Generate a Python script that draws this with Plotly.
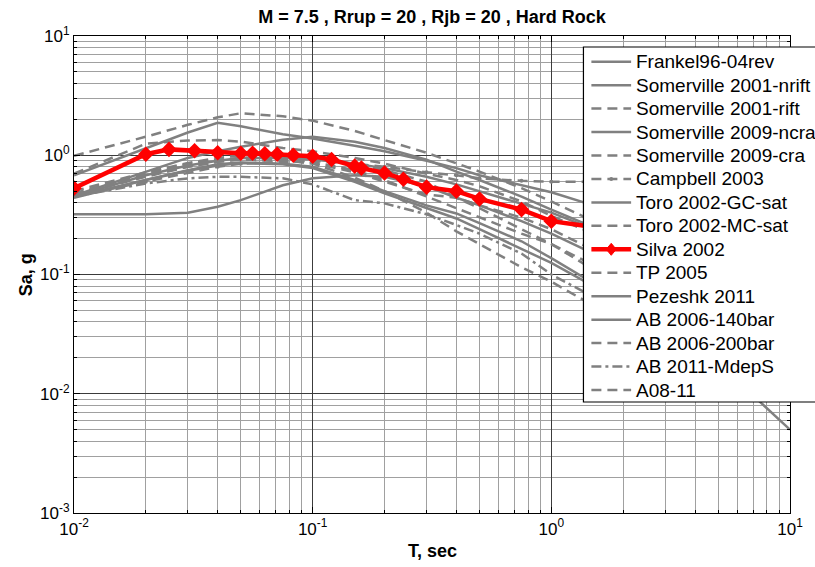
import plotly.graph_objects as go

# ---------------- data ----------------
T_STD = [0.01, 0.02, 0.03, 0.04, 0.05, 0.075, 0.1, 0.15, 0.2, 0.3, 0.4, 0.5, 0.75, 1.0, 1.5, 2.0, 3.0, 4.0, 5.0]
T_PEZ = T_STD + [7.5, 10.0]

frankel96 = [0.45, 0.68, 0.82, 0.90, 0.95, 0.95, 0.92, 0.85, 0.78, 0.66, 0.57, 0.50, 0.39, 0.33, 0.24, 0.18, 0.12, 0.085, 0.065]
somer01_nrift = [0.68, 1.15, 1.55, 1.87, 1.75, 1.50, 1.38, 1.20, 1.08, 0.90, 0.78, 0.68, 0.56, 0.49, 0.38, 0.30, 0.20, 0.15, 0.11]
somer01_rift = [0.99, 1.43, 1.80, 2.08, 2.25, 2.12, 1.95, 1.60, 1.34, 1.05, 0.855, 0.73, 0.53, 0.41, 0.28, 0.21, 0.13, 0.09, 0.065]
somer09_ncra = [0.46, 0.72, 0.95, 1.08, 1.18, 1.35, 1.43, 1.30, 1.15, 0.92, 0.73, 0.62, 0.45, 0.35, 0.25, 0.19, 0.12, 0.085, 0.06]
somer09_cra = [0.70, 1.25, 1.33, 1.34, 1.30, 1.15, 1.08, 0.95, 0.85, 0.70, 0.62, 0.55, 0.41, 0.31, 0.22, 0.16, 0.10, 0.07, 0.05]
campbell03 = [0.45, 0.60, 0.72, 0.80, 0.85, 0.88, 0.90, 0.85, 0.80, 0.72, 0.68, 0.64, 0.61, 0.60, 0.60, 0.50, 0.35, 0.25, 0.20]
toro_gc = [0.45, 0.62, 0.75, 0.84, 0.87, 0.85, 0.80, 0.62, 0.50, 0.38, 0.325, 0.27, 0.19, 0.137, 0.085, 0.06, 0.035, 0.025, 0.02]
toro_mc = [0.47, 0.68, 0.80, 0.88, 0.92, 0.90, 0.86, 0.72, 0.60, 0.47, 0.44, 0.36, 0.24, 0.18, 0.11, 0.08, 0.05, 0.035, 0.027]
tp05 = [0.48, 0.70, 0.85, 0.92, 0.95, 0.92, 0.85, 0.65, 0.50, 0.33, 0.23, 0.18, 0.115, 0.087, 0.055, 0.04, 0.025, 0.018, 0.014]
pezeshk11 = [0.44, 0.62, 0.74, 0.82, 0.86, 0.84, 0.78, 0.60, 0.48, 0.36, 0.295, 0.24, 0.165, 0.125, 0.08, 0.057, 0.033, 0.024, 0.018, 0.0085, 0.005]
ab06_140 = [0.32, 0.32, 0.33, 0.37, 0.42, 0.56, 0.64, 0.68, 0.66, 0.55, 0.44, 0.38, 0.28, 0.22, 0.15, 0.11, 0.065, 0.045, 0.033]
ab06_200 = [0.50, 0.72, 0.86, 0.95, 1.00, 1.00, 0.95, 0.85, 0.75, 0.60, 0.44, 0.38, 0.30, 0.24, 0.16, 0.12, 0.07, 0.05, 0.036]
ab11_mdeps = [0.45, 0.58, 0.64, 0.66, 0.66, 0.64, 0.57, 0.42, 0.395, 0.32, 0.26, 0.22, 0.15, 0.10, 0.065, 0.045, 0.027, 0.019, 0.014]
a08_11 = [0.46, 0.66, 0.80, 0.88, 0.93, 0.92, 0.88, 0.75, 0.62, 0.45, 0.36, 0.30, 0.22, 0.18, 0.12, 0.09, 0.055, 0.04, 0.03]

T_SILVA = [0.01, 0.02, 0.025, 0.032, 0.04, 0.05, 0.056, 0.063, 0.071, 0.083, 0.1, 0.12, 0.15, 0.16,
           0.2, 0.24, 0.3, 0.4, 0.5, 0.75, 1.0, 1.5, 2.0, 3.0, 4.0, 5.0]
silva02 = [0.53, 1.02, 1.12, 1.09, 1.05, 1.04, 1.04, 1.03, 1.02, 1.00, 0.98, 0.92, 0.81, 0.78,
           0.71, 0.63, 0.54, 0.50, 0.43, 0.35, 0.28, 0.25, 0.20, 0.13, 0.095, 0.075]

X_TICKS = [0.01, 0.1, 1, 10]
X_TICKTEXT = ["10<sup>-2</sup>", "10<sup>-1</sup>", "10<sup>0</sup>", "10<sup>1</sup>"]
Y_TICKS = [0.001, 0.01, 0.1, 1, 10]
Y_TICKTEXT = ["10<sup>-3</sup>", "10<sup>-2</sup>", "10<sup>-1</sup>", "10<sup>0</sup>", "10<sup>1</sup>"]

GRAY = "#808080"
DASH = "10px,6px"
DASHDOT = "10px,4px,3px,4px"

series = [
    ("Frankel96-04rev", T_STD, frankel96, "solid", False),
    ("Somerville 2001-nrift", T_STD, somer01_nrift, "solid", False),
    ("Somerville 2001-rift", T_STD, somer01_rift, DASH, False),
    ("Somerville 2009-ncra", T_STD, somer09_ncra, "solid", False),
    ("Somerville 2009-cra", T_STD, somer09_cra, DASH, False),
    ("Campbell 2003", T_STD, campbell03, DASH, True),
    ("Toro 2002-GC-sat", T_STD, toro_gc, "solid", False),
    ("Toro 2002-MC-sat", T_STD, toro_mc, DASH, False),
    ("Silva 2002", T_SILVA, silva02, "silva", False),
    ("TP 2005", T_STD, tp05, DASH, False),
    ("Pezeshk 2011", T_PEZ, pezeshk11, "solid", False),
    ("AB 2006-140bar", T_STD, ab06_140, "solid", False),
    ("AB 2006-200bar", T_STD, ab06_200, DASH, False),
    ("AB 2011-MdepS", T_STD, ab11_mdeps, DASHDOT, False),
    ("A08-11", T_STD, a08_11, DASH, False),
]

fig = go.Figure()
for name, tt, vals, style, dots in series:
    if style == "silva":
        continue
    fig.add_trace(go.Scatter(
        x=tt, y=vals, name=name, mode="lines+markers" if dots else "lines",
        line=dict(color=GRAY, width=2.5, dash=style),
        marker=dict(size=4, color=GRAY) if dots else None,
        showlegend=False))
fig.add_trace(go.Scatter(
    x=T_SILVA, y=silva02, name="Silva 2002", mode="lines+markers",
    line=dict(color="red", width=4.5),
    marker=dict(symbol="diamond", size=12, color="red"),
    showlegend=False))

# --------- layout geometry ---------
W, H = 815, 567
L, R, TOP, BOT = 74, 795, 36, 513


def px_x(p):
    return (p - L) / (R - L)


def px_y(p):
    return (BOT - p) / (BOT - TOP)


minor_x = [m * 10 ** e for e in (-2, -1, 0) for m in range(2, 10)]
minor_y = [m * 10 ** e for e in (-3, -2, -1, 0) for m in range(2, 10)]

axis_common = dict(
    type="log", showline=True, linecolor="black", linewidth=1.2, mirror="allticks",
    ticks="inside", ticklen=6, tickcolor="black", showgrid=True, gridcolor="#3c3c3c",
    gridwidth=1, zeroline=False, tickfont=dict(family="Liberation Sans", size=17, color="black"),
)
fig.update_xaxes(range=[-2, 1], tickvals=X_TICKS, ticktext=X_TICKTEXT,
                 minor=dict(tickmode="array", tickvals=minor_x, ticks="inside", ticklen=3,
                            tickcolor="black", showgrid=True, gridcolor="#a0a0a0", gridwidth=1),
                 **axis_common)
fig.update_yaxes(range=[-3, 1], tickvals=Y_TICKS, ticktext=Y_TICKTEXT,
                 minor=dict(tickmode="array", tickvals=minor_y, ticks="inside", ticklen=3,
                            tickcolor="black", showgrid=True, gridcolor="#a0a0a0", gridwidth=1),
                 **axis_common)

fig.update_layout(
    width=W, height=H, margin=dict(l=L, r=W - R, t=TOP, b=H - BOT),
    plot_bgcolor="white", paper_bgcolor="white", showlegend=False,
    title=dict(text="<b>M = 7.5 , Rrup = 20 , Rjb = 20 , Hard Rock</b>",
               x=0.5, xref="paper", xanchor="center", y=1 - 17 / H, yref="container",
               yanchor="middle", font=dict(family="Liberation Sans", size=18, color="black")),
)

annotations = [
    dict(text="<b>T, sec</b>", x=0.5, y=px_y(551), xref="paper", yref="paper",
         xanchor="center", yanchor="middle", showarrow=False,
         font=dict(family="Liberation Sans", size=18, color="black")),
    dict(text="<b>Sa, g</b>", x=px_x(26), y=px_y(275), xref="paper", yref="paper",
         xanchor="center", yanchor="middle", textangle=-90, showarrow=False,
         font=dict(family="Liberation Sans", size=18, color="black")),
]

# --------- legend (drawn as layout items) ---------
shapes = [dict(type="rect", xref="paper", yref="paper", x0=px_x(587), x1=px_x(840),
               y0=px_y(402), y1=px_y(47), line=dict(color="black", width=1.2),
               fillcolor="white", layer="above")]
LEG_Y0, LEG_STEP = 61.7, 23.45
for i, (name, tt, vals, style, dots) in enumerate(series):
    yy = LEG_Y0 + i * LEG_STEP
    if style == "silva":
        shapes.append(dict(type="line", xref="paper", yref="paper", x0=px_x(595), x1=px_x(635),
                           y0=px_y(yy), y1=px_y(yy), line=dict(color="red", width=4.5), layer="above"))
        cx, cy = 615, yy
        shapes.append(dict(type="path", xref="paper", yref="paper",
                           path=f"M {px_x(cx - 5)} {px_y(cy)} L {px_x(cx)} {px_y(cy - 6)} "
                                f"L {px_x(cx + 5)} {px_y(cy)} L {px_x(cx)} {px_y(cy + 6)} Z",
                           fillcolor="red", line=dict(color="red", width=1), layer="above"))
    else:
        shapes.append(dict(type="line", xref="paper", yref="paper", x0=px_x(595), x1=px_x(635),
                           y0=px_y(yy), y1=px_y(yy), line=dict(color=GRAY, width=2.5, dash=style),
                           layer="above"))
        if dots:
            shapes.append(dict(type="circle", xref="paper", yref="paper",
                               x0=px_x(613), x1=px_x(617), y0=px_y(yy + 2), y1=px_y(yy - 2),
                               fillcolor=GRAY, line=dict(color=GRAY, width=0), layer="above"))
    annotations.append(dict(text=name, x=px_x(638), y=px_y(yy), xref="paper", yref="paper",
                            xanchor="left", yanchor="middle", showarrow=False,
                            font=dict(family="Liberation Sans", size=19, color="black")))

fig.update_layout(shapes=shapes, annotations=annotations)
fig.write_html("out.html")
